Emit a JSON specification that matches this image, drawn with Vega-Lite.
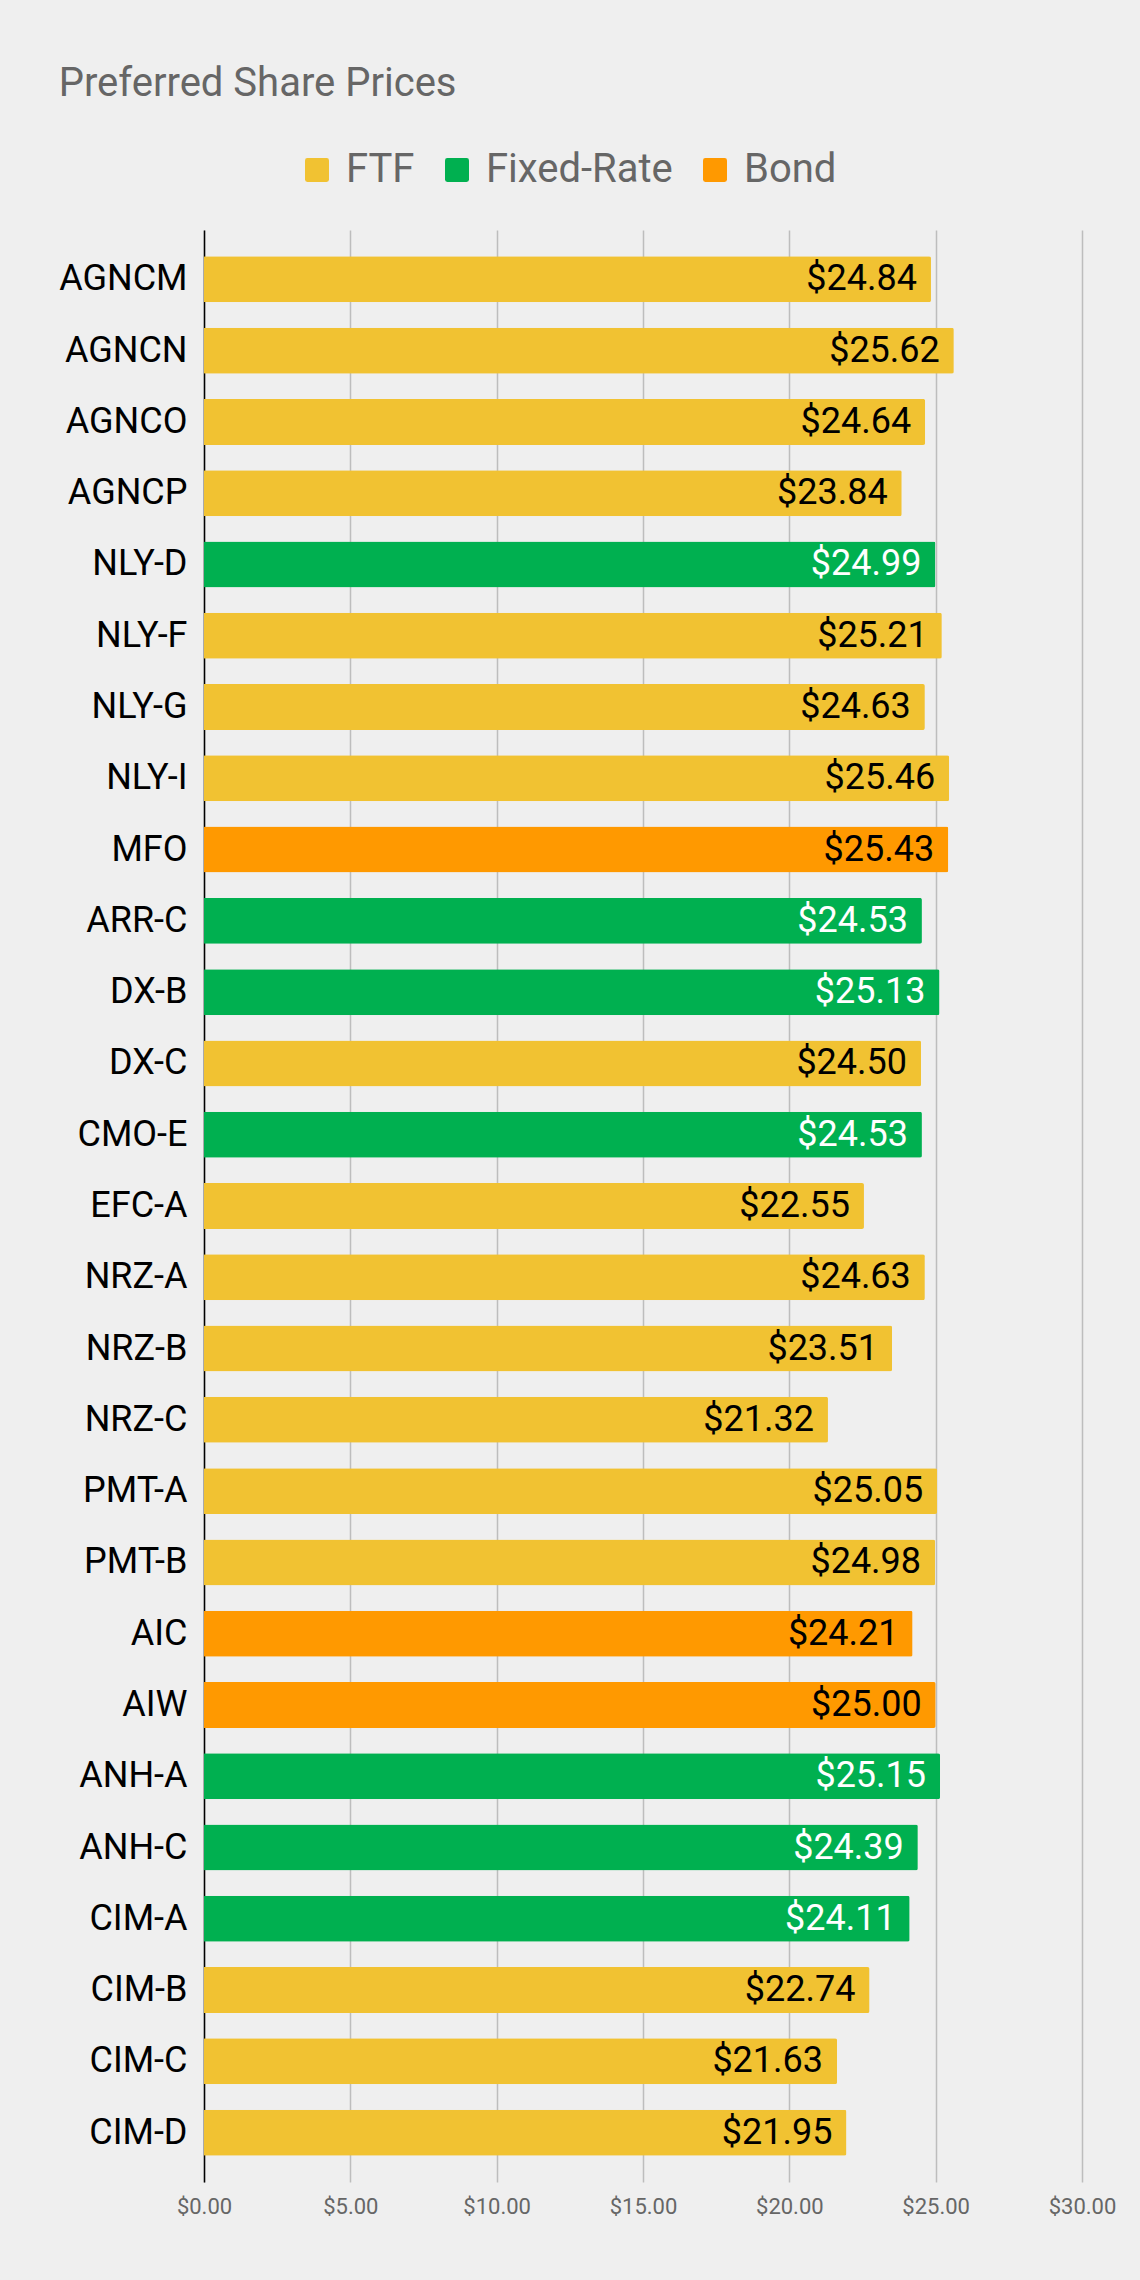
{
  "$schema": "https://vega.github.io/schema/vega-lite/v6.json",
  "autosize": {"type": "fit", "contains": "padding"},
  "width": 1140,
  "height": 2280,
  "padding": {"left": 58, "right": 24, "top": 64, "bottom": 63},
  "background": "#efefef",
  "title": {
    "text": "Preferred Share Prices",
    "anchor": "start",
    "frame": "bounds",
    "fontSize": 40,
    "fontWeight": "normal",
    "color": "#666666",
    "offset": 126
  },
  "data": {
    "values": [
      {"Ticker": "AGNCM", "Price": 24.84, "Type": "FTF"},
      {"Ticker": "AGNCN", "Price": 25.62, "Type": "FTF"},
      {"Ticker": "AGNCO", "Price": 24.64, "Type": "FTF"},
      {"Ticker": "AGNCP", "Price": 23.84, "Type": "FTF"},
      {"Ticker": "NLY-D", "Price": 24.99, "Type": "Fixed-Rate"},
      {"Ticker": "NLY-F", "Price": 25.21, "Type": "FTF"},
      {"Ticker": "NLY-G", "Price": 24.63, "Type": "FTF"},
      {"Ticker": "NLY-I", "Price": 25.46, "Type": "FTF"},
      {"Ticker": "MFO", "Price": 25.43, "Type": "Bond"},
      {"Ticker": "ARR-C", "Price": 24.53, "Type": "Fixed-Rate"},
      {"Ticker": "DX-B", "Price": 25.13, "Type": "Fixed-Rate"},
      {"Ticker": "DX-C", "Price": 24.50, "Type": "FTF"},
      {"Ticker": "CMO-E", "Price": 24.53, "Type": "Fixed-Rate"},
      {"Ticker": "EFC-A", "Price": 22.55, "Type": "FTF"},
      {"Ticker": "NRZ-A", "Price": 24.63, "Type": "FTF"},
      {"Ticker": "NRZ-B", "Price": 23.51, "Type": "FTF"},
      {"Ticker": "NRZ-C", "Price": 21.32, "Type": "FTF"},
      {"Ticker": "PMT-A", "Price": 25.05, "Type": "FTF"},
      {"Ticker": "PMT-B", "Price": 24.98, "Type": "FTF"},
      {"Ticker": "AIC", "Price": 24.21, "Type": "Bond"},
      {"Ticker": "AIW", "Price": 25.00, "Type": "Bond"},
      {"Ticker": "ANH-A", "Price": 25.15, "Type": "Fixed-Rate"},
      {"Ticker": "ANH-C", "Price": 24.39, "Type": "Fixed-Rate"},
      {"Ticker": "CIM-A", "Price": 24.11, "Type": "Fixed-Rate"},
      {"Ticker": "CIM-B", "Price": 22.74, "Type": "FTF"},
      {"Ticker": "CIM-C", "Price": 21.63, "Type": "FTF"},
      {"Ticker": "CIM-D", "Price": 21.95, "Type": "FTF"}
    ]
  },
  "encoding": {
    "y": {
      "field": "Ticker",
      "type": "nominal",
      "sort": null,
      "scale": {"paddingInner": 0.355, "paddingOuter": 0.37},
      "axis": {
        "title": null,
        "ticks": false,
        "domain": true,
        "domainColor": "#000000",
        "domainWidth": 1.5,
        "labelFontSize": 36,
        "labelColor": "#000000",
        "labelPadding": 17,
        "grid": false
      }
    },
    "x": {
      "field": "Price",
      "type": "quantitative",
      "scale": {"domain": [0, 30], "nice": false},
      "axis": {
        "title": null,
        "values": [0, 5, 10, 15, 20, 25, 30],
        "format": "$.2f",
        "ticks": false,
        "domain": false,
        "grid": true,
        "gridColor": "#bdbdbd",
        "gridWidth": 1.5,
        "labelFontSize": 22,
        "labelColor": "#666666",
        "labelPadding": 14,
        "labelFlush": false,
        "labelOverlap": false
      }
    }
  },
  "layer": [
    {
      "mark": {"type": "bar", "cornerRadiusEnd": 2},
      "encoding": {
        "color": {
          "field": "Type",
          "type": "nominal",
          "scale": {
            "domain": ["FTF", "Fixed-Rate", "Bond"],
            "range": ["#f1c232", "#00b050", "#ff9900"]
          },
          "legend": {
            "title": null,
            "orient": "none",
            "direction": "horizontal",
            "legendX": 93,
            "legendY": -80,
            "padding": 0,
            "symbolType": "M-0.8,-1H0.8Q1,-1 1,-0.8V0.8Q1,1 0.8,1H-0.8Q-1,1 -1,0.8V-0.8Q-1,-1 -0.8,-1Z",
            "symbolSize": 576,
            "symbolStrokeWidth": 0,
            "symbolOpacity": 1,
            "labelFontSize": 40,
            "labelColor": "#666666",
            "labelOffset": 9,
            "columnPadding": 22,
            "labelLimit": 400
          }
        }
      }
    },
    {
      "mark": {"type": "text", "align": "right", "baseline": "middle", "dx": -14, "fontSize": 36},
      "encoding": {
        "text": {"field": "Price", "type": "quantitative", "format": "$.2f"},
        "color": {
          "condition": {"test": "datum.Type === 'Fixed-Rate'", "value": "#ffffff"},
          "value": "#000000"
        }
      }
    }
  ],
  "config": {
    "font": "Roboto",
    "view": {"stroke": null}
  }
}
